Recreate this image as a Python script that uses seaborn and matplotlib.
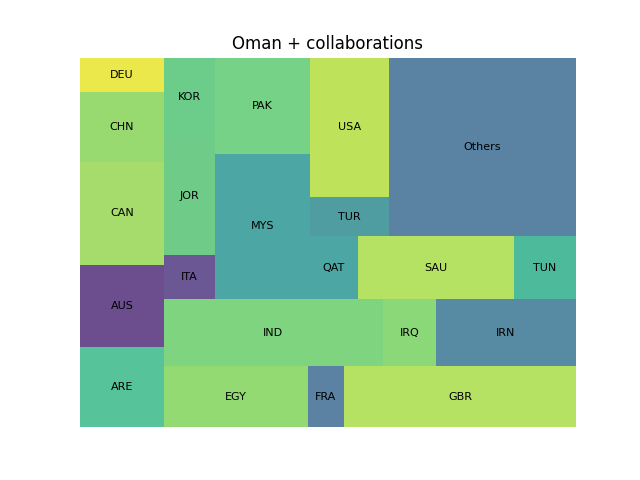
import matplotlib
matplotlib.use("Agg")
import matplotlib.pyplot as plt
import seaborn as sns

labels = ["ARE", "AUS", "CAN", "CHN", "DEU", "EGY", "FRA", "GBR", "IND", "IRQ", "IRN",
          "ITA", "JOR", "KOR", "MYS", "PAK", "QAT", "SAU", "TUN", "TUR", "USA", "Others"]
values = [366, 376, 473, 320, 156, 479, 120, 772, 800, 194, 512,
          122, 328, 220, 751, 498, 165, 536, 213, 168, 599, 1822]
colors = ["#57C39A", "#6C4E8E", "#A5DC6C", "#98DA70", "#EAE84A", "#94DA73", "#5B81A3",
          "#B5E262", "#7ED47F", "#8BD878", "#568BA3", "#6C5795", "#6FCC88", "#6CCC8A",
          "#4CA6A3", "#76D287", "#4CA6A3", "#B5E262", "#4EBA9C", "#4F9DA0", "#BEE35A",
          "#5A83A3"]


def layoutrow(sizes, x, y, dx, dy):
    width = sum(sizes) / dy
    rects = []
    for s in sizes:
        rects.append((x, y, width, s / width))
        y += s / width
    return rects


def layoutcol(sizes, x, y, dx, dy):
    height = sum(sizes) / dx
    rects = []
    for s in sizes:
        rects.append((x, y, s / height, height))
        x += s / height
    return rects


def layout(sizes, x, y, dx, dy):
    return layoutrow(sizes, x, y, dx, dy) if dx >= dy else layoutcol(sizes, x, y, dx, dy)


def leftover(sizes, x, y, dx, dy):
    if dx >= dy:
        w = sum(sizes) / dy
        return x + w, y, dx - w, dy
    h = sum(sizes) / dx
    return x, y + h, dx, dy - h


def worst(sizes, x, y, dx, dy):
    return max(max(r[2] / r[3], r[3] / r[2]) for r in layout(sizes, x, y, dx, dy))


def squarify(sizes, x, y, dx, dy):
    if len(sizes) == 0:
        return []
    if len(sizes) == 1:
        return layout(sizes, x, y, dx, dy)
    i = 1
    while i < len(sizes) and worst(sizes[:i], x, y, dx, dy) >= worst(sizes[:i + 1], x, y, dx, dy):
        i += 1
    cur, rem = sizes[:i], sizes[i:]
    lx, ly, ldx, ldy = leftover(cur, x, y, dx, dy)
    return layout(cur, x, y, dx, dy) + squarify(rem, lx, ly, ldx, ldy)


W, H = 100.0, 100.0
total = float(sum(values))
normed = [v * W * H / total for v in values]
rects = squarify(normed, 0.0, 0.0, W, H)

fig, ax = plt.subplots(figsize=(6.4, 4.8), dpi=100)
palette = sns.color_palette(colors)
ax.bar([r[0] for r in rects], [r[3] for r in rects], width=[r[2] for r in rects],
       bottom=[r[1] for r in rects], color=palette, align="edge", linewidth=0)
for r, lab in zip(rects, labels):
    ax.text(r[0] + r[2] / 2, r[1] + r[3] / 2, lab, ha="center", va="center", fontsize=8)
ax.set_xlim(0, W)
ax.set_ylim(0, H)
ax.axis("off")
ax.set_title("Oman + collaborations", fontsize=12)
fig.savefig("out.png", dpi=100)
